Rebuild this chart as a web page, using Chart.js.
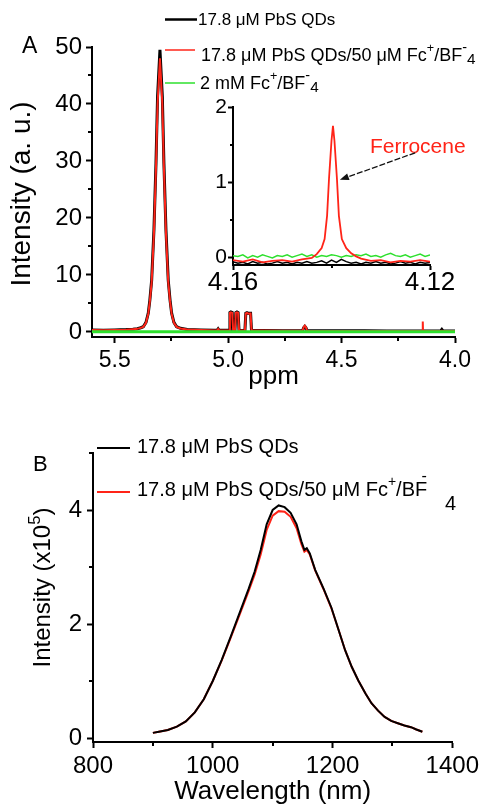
<!DOCTYPE html>
<html>
<head>
<meta charset="utf-8">
<script src="https://cdn.jsdelivr.net/npm/chart.js@4.4.1/dist/chart.umd.min.js"></script>
<style>
    html, body { margin: 0; padding: 0; background: #fff; }
    #wrap { position: relative; width: 483px; height: 807px; overflow: hidden; }
    canvas { position: absolute; left: 0; }
</style>
</head>
<body>
<div id="wrap">
    <canvas id="nmr_chart" width="483" height="400" style="top:0"></canvas>
    <canvas id="nmr_inset" width="483" height="400" style="top:0"></canvas>
    <canvas id="pl_chart" width="483" height="407" style="top:400px"></canvas>
</div>
<script>
const FONT = '"Liberation Sans", Arial, Helvetica, sans-serif';
const BLACK = "#000000";
const RED = "#ff2418";
const GREEN = "#2ee02e";

// ---- Panel A: 1H NMR (ppm) ----
const nmrPpm = [5.600, 5.550, 5.500, 5.450, 5.420, 5.400, 5.385, 5.374, 5.362, 5.352, 5.345, 5.337, 5.327, 5.318, 5.311,
    5.3005, 5.290, 5.283, 5.274, 5.264, 5.256, 5.249, 5.239, 5.227, 5.210, 5.180, 5.120, 5.060, 5.048, 5.044, 5.040,
    4.996, 4.992, 4.988, 4.982, 4.978, 4.970, 4.966, 4.961, 4.956, 4.952, 4.926, 4.922, 4.917, 4.913, 4.910, 4.906,
    4.901, 4.897, 4.850, 4.760, 4.672, 4.667, 4.662, 4.657, 4.652, 4.550, 4.400, 4.300, 4.146, 4.143, 4.1425, 4.1415,
    4.141, 4.138, 4.070, 4.063, 4.058, 4.053, 4.000];
const nmrQds = [0.35, 0.32, 0.35, 0.42, 0.50, 0.58, 0.75, 0.93, 1.7, 3.3, 5.6, 9.1, 17.9, 29.6, 41.3,
    49.5, 41.3, 29.6, 17.9, 9.1, 5.6, 3.3, 1.7, 0.93, 0.65, 0.45, 0.35, 0.30, 0.32, 0.55, 0.30,
    0.30, 3.40, 3.50, 3.40, 0.30, 0.30, 3.40, 3.50, 3.40, 0.30, 0.28, 3.30, 3.40, 3.30, 3.25, 3.30,
    3.30, 0.28, 0.25, 0.22, 0.22, 0.75, 1.00, 0.75, 0.22, 0.20, 0.20, 0.18, 0.18, 0.18, 0.18, 0.18,
    0.18, 0.18, 0.18, 0.18, 0.45, 0.18, 0.18];
const nmrQdsFc = [0.33, 0.30, 0.33, 0.40, 0.48, 0.55, 0.72, 0.90, 1.6, 3.2, 5.4, 8.8, 17.3, 28.8, 40.0,
    48.0, 40.0, 28.8, 17.3, 8.8, 5.4, 3.2, 1.6, 0.90, 0.62, 0.43, 0.33, 0.28, 0.30, 0.52, 0.28,
    0.28, 3.35, 3.45, 3.35, 0.28, 0.28, 3.35, 3.45, 3.35, 0.28, 0.26, 3.25, 3.35, 3.25, 3.20, 3.25,
    3.25, 0.26, 0.24, 0.21, 0.21, 0.85, 1.10, 0.85, 0.21, 0.19, 0.19, 0.17, 0.17, 0.20, 1.85, 1.85,
    0.20, 0.17, 0.17, 0.17, 0.20, 0.17, 0.17];
const fcPpm = [5.600, 4.000];
const fcOnly = [0.02, 0.02];

const nmrXTicks = [5.5, 5.0, 4.5, 4.0];
const nmrXMinor = [5.25, 4.75, 4.25];
const nmrYTicks = [0, 10, 20, 30, 40, 50];
const nmrYMinor = [5, 15, 25, 35, 45];

// ---- Panel A inset: 4.16 - 4.12 ppm ----
const insetPpm = [4.160, 4.159, 4.158, 4.157, 4.156, 4.155, 4.154, 4.153, 4.152, 4.151, 4.150, 4.149, 4.148, 4.147,
    4.146, 4.145, 4.144, 4.143, 4.142, 4.141, 4.140, 4.139, 4.138, 4.137, 4.136, 4.135, 4.134, 4.133, 4.132, 4.131,
    4.130, 4.129, 4.128, 4.127, 4.126, 4.125, 4.124, 4.123, 4.122, 4.121, 4.120];
const insetQds = [-0.06, -0.08, -0.07, -0.09, -0.06, -0.08, -0.07, -0.09, -0.08, -0.06, -0.08, -0.07, -0.09, -0.07,
    -0.08, -0.06, -0.08, -0.07, -0.05, -0.08, -0.04, -0.07, -0.03, -0.06, -0.08, -0.07, -0.09, -0.07, -0.08, -0.06,
    -0.08, -0.07, -0.09, -0.08, -0.06, -0.08, -0.07, -0.09, -0.07, -0.08, -0.07];
const insetFc = [0.02, 0.01, 0.03, -0.01, 0.02, 0.00, 0.03, 0.01, -0.01, 0.02, 0.01, 0.03, 0.00, 0.02,
    0.04, 0.01, 0.03, 0.00, 0.02, 0.01, 0.03, 0.02, 0.00, 0.02, 0.01, 0.03, 0.02, 0.04, 0.01, 0.02,
    0.00, 0.03, 0.05, 0.02, 0.01, 0.03, 0.00, 0.02, 0.04, 0.01, 0.03];
const insetRedPpm = [4.160, 4.158, 4.156, 4.154, 4.152, 4.150, 4.148, 4.146, 4.144, 4.143, 4.142, 4.1414, 4.1409,
    4.1405, 4.1400, 4.1397, 4.1394, 4.1389, 4.1385, 4.1379, 4.1370, 4.1360, 4.1350, 4.134, 4.132, 4.130, 4.128,
    4.126, 4.124, 4.122, 4.120];
const insetQdsFc = [-0.04, -0.06, -0.03, -0.07, -0.05, -0.04, -0.06, -0.03, -0.01, 0.04, 0.12, 0.24, 0.55,
    1.05, 1.55, 1.75, 1.55, 1.05, 0.55, 0.24, 0.12, 0.05, 0.01, -0.02, -0.05, -0.04, -0.07,
    -0.05, -0.06, -0.04, -0.06];
const insetXTicks = [4.16, 4.12];
const insetXMinor = [4.14];
const insetYTicks = [0, 1, 2];
const insetYMinor = [0.5, 1.5];
const ferroceneNote = { text: "Ferrocene", x: 4.1322, y: 1.47, from: [4.1230, 1.39], to: [4.1383, 1.03] };

// ---- Panel B: PL spectra ----
const plWavelength = [900, 910, 925, 940, 955, 970, 985, 1000, 1015, 1030, 1045, 1060, 1070, 1080, 1090, 1100,
    1110, 1120, 1130, 1140, 1148, 1153, 1157, 1162, 1171, 1185, 1198, 1210, 1221, 1232, 1243, 1255, 1265,
    1276, 1287, 1298, 1309, 1320, 1331, 1340, 1350];
const plQds = [0.09, 0.11, 0.14, 0.20, 0.29, 0.45, 0.68, 1.00, 1.37, 1.78, 2.20, 2.62, 2.92, 3.30, 3.75, 4.00,
    4.08, 4.05, 3.95, 3.75, 3.45, 3.30, 3.33, 3.24, 2.95, 2.62, 2.29, 1.90, 1.54, 1.25, 1.01, 0.78, 0.61,
    0.48, 0.37, 0.30, 0.26, 0.22, 0.19, 0.15, 0.11];
const plQdsFc = [0.09, 0.11, 0.14, 0.20, 0.29, 0.45, 0.68, 1.00, 1.36, 1.76, 2.17, 2.58, 2.87, 3.22, 3.65, 3.90,
    3.98, 3.97, 3.88, 3.68, 3.40, 3.27, 3.30, 3.22, 2.94, 2.61, 2.28, 1.90, 1.54, 1.25, 1.01, 0.78, 0.61,
    0.48, 0.37, 0.30, 0.26, 0.22, 0.19, 0.15, 0.11];
const plXTicks = [800, 1000, 1200, 1400];
const plXMinor = [900, 1100, 1300];
const plYTicks = [0, 2, 4];
const plYMinor = [1, 3, 5];

// ---- text runs (legend labels, rotated axis titles) ----
const labelQds = [{ t: "17.8 μM PbS QDs" }];
const labelQdsFc = [{ t: "17.8 μM PbS QDs/50 μM Fc" }, { t: "+", scale: 0.7, dy: -0.42 }, { t: "/BF" },
    { t: "-", scale: 0.8, dy: -0.45 }, { t: "4", scale: 0.85, dy: 0.2 }];
const labelFc = [{ t: "2 mM Fc" }, { t: "+", scale: 0.7, dy: -0.42 }, { t: "/BF" },
    { t: "-", scale: 0.8, dy: -0.45 }, { t: "4", scale: 0.85, dy: 0.2 }];
const labelQdsFcB = [{ t: "17.8 μM PbS QDs/50 μM Fc" }, { t: "+", scale: 0.7, dy: -0.42 }, { t: "/BF" },
    { t: "-", scale: 0.8, dy: -0.7, dx: -0.28 }, { t: "4", scale: 1, dy: 0.68, dx: 0.9 }];
const titleNmrY = [{ t: "Intensity (a. u.)" }];
const titlePlY = [{ t: "Intensity (x10" }, { t: "5", scale: 0.7, dy: -0.3 }, { t: ")" }];

function pts(xs, ys) {
    return xs.map((x, i) => ({ x: x, y: ys[i] }));
}

function runsWidth(ctx, runs, size) {
    let w = 0;
    runs.forEach(r => {
        ctx.font = size * (r.scale || 1) + "px " + FONT;
        w += (r.dx || 0) * size + ctx.measureText(r.t).width;
    });
    return w;
}

function drawRuns(ctx, x, y, runs, size, color) {
    ctx.save();
    ctx.fillStyle = color;
    ctx.textBaseline = "middle";
    ctx.textAlign = "left";
    runs.forEach(r => {
        const fs = size * (r.scale || 1);
        ctx.font = fs + "px " + FONT;
        x += (r.dx || 0) * size;
        ctx.fillText(r.t, x, y + (r.dy || 0) * size);
        x += ctx.measureText(r.t).width;
    });
    ctx.restore();
}

// minor ticks (shorter than the major ones Chart.js draws)
const minorTicksPlugin = {
    id: "minorTicks",
    afterDraw(chart, args, opts) {
        const ctx = chart.ctx;
        const xs = chart.scales.x;
        const ys = chart.scales.y;
        ctx.save();
        ctx.strokeStyle = "#000";
        ctx.lineWidth = 2;
        (opts.x || []).forEach(v => {
            const px = Math.round(xs.getPixelForValue(v));
            ctx.beginPath();
            ctx.moveTo(px, xs.top);
            ctx.lineTo(px, xs.top + opts.length);
            ctx.stroke();
        });
        (opts.y || []).forEach(v => {
            const py = Math.round(ys.getPixelForValue(v));
            ctx.beginPath();
            ctx.moveTo(ys.right, py);
            ctx.lineTo(ys.right - opts.length, py);
            ctx.stroke();
        });
        ctx.restore();
    },
};

// legend rows, panel letter, rotated y title and the inset note
const panelTextPlugin = {
    id: "panelText",
    afterDraw(chart, args, opts) {
        const ctx = chart.ctx;
        (opts.rows || []).forEach(r => {
            ctx.save();
            ctx.strokeStyle = r.color;
            ctx.lineWidth = r.width;
            ctx.beginPath();
            ctx.moveTo(r.x1, r.y);
            ctx.lineTo(r.x2, r.y);
            ctx.stroke();
            ctx.restore();
            drawRuns(ctx, r.tx, r.ty, r.runs, r.size, "#000");
        });
        if (opts.letter) {
            drawRuns(ctx, opts.letter.x, opts.letter.y, [{ t: opts.letter.t }], opts.letter.size, "#000");
        }
        if (opts.yTitle) {
            const t = opts.yTitle;
            const cy = (chart.chartArea.top + chart.chartArea.bottom) / 2 + (t.shift || 0);
            const w = runsWidth(ctx, t.runs, t.size);
            ctx.save();
            ctx.translate(t.x, cy);
            ctx.rotate(-Math.PI / 2);
            drawRuns(ctx, -w / 2, 0, t.runs, t.size, "#000");
            ctx.restore();
        }
        if (opts.note) {
            const n = opts.note;
            const sx = chart.scales.x, sy = chart.scales.y;
            drawRuns(ctx, sx.getPixelForValue(n.x), sy.getPixelForValue(n.y), [{ t: n.text }], 21, RED);
            const x1 = sx.getPixelForValue(n.from[0]), y1 = sy.getPixelForValue(n.from[1]);
            const x2 = sx.getPixelForValue(n.to[0]), y2 = sy.getPixelForValue(n.to[1]);
            const a = Math.atan2(y2 - y1, x2 - x1);
            ctx.save();
            ctx.strokeStyle = "#111";
            ctx.fillStyle = "#111";
            ctx.lineWidth = 1.3;
            ctx.setLineDash([6, 2]);
            ctx.beginPath();
            ctx.moveTo(x1, y1);
            ctx.lineTo(x2 - 6 * Math.cos(a), y2 - 6 * Math.sin(a));
            ctx.stroke();
            ctx.setLineDash([]);
            ctx.beginPath();
            ctx.moveTo(x2, y2);
            ctx.lineTo(x2 - 9 * Math.cos(a) + 3.5 * Math.sin(a), y2 - 9 * Math.sin(a) - 3.5 * Math.cos(a));
            ctx.lineTo(x2 - 9 * Math.cos(a) - 3.5 * Math.sin(a), y2 - 9 * Math.sin(a) + 3.5 * Math.cos(a));
            ctx.closePath();
            ctx.fill();
            ctx.restore();
        }
    },
};

function axis(o) {
    return {
        type: "linear",
        min: o.min,
        max: o.max,
        reverse: !!o.reverse,
        afterBuildTicks: s => { s.ticks = o.ticks.map(v => ({ value: v })); },
        afterFit: s => {
            if (o.width != null) s.width = o.width;
            if (o.height != null) s.height = o.height;
        },
        ticks: {
            autoSkip: false,
            maxRotation: 0,
            padding: o.pad,
            color: "#000",
            font: { family: FONT, size: o.font, lineHeight: o.lh || 1.2 },
            callback: v => o.digits != null ? Number(v).toFixed(o.digits) : String(v),
        },
        grid: { drawOnChartArea: false, drawTicks: true, tickLength: o.tick || 6, tickWidth: 2, tickColor: "#000" },
        border: { display: true, color: "#000", width: 2 },
        title: o.title ? {
            display: true,
            text: o.title,
            color: "#000",
            font: { family: FONT, size: o.titleSize },
            padding: o.titlePad,
        } : { display: false },
    };
}

function baseOptions(padding) {
    return {
        responsive: false,
        animation: false,
        layout: { padding: padding },
        elements: { point: { radius: 0 }, line: { tension: 0 } },
        plugins: { legend: { display: false }, tooltip: { enabled: false } },
    };
}

// ---- Panel A main ----
const optsA = baseOptions({ left: 0, top: 47, right: 28, bottom: 0 });
optsA.scales = {
    x: axis({ min: 4.0, max: 5.6, reverse: true, ticks: nmrXTicks, digits: 1, font: 23, pad: 4, height: 63,
        title: "ppm", titleSize: 26, titlePad: { top: 0, bottom: 8 } }),
    y: axis({ min: -0.88, max: 50, ticks: nmrYTicks, font: 24, pad: 4, width: 92 }),
};
optsA.plugins.minorTicks = { x: nmrXMinor, y: nmrYMinor, length: 4 };
optsA.plugins.panelText = {
    letter: { t: "A", x: 22, y: 47, size: 23 },
    yTitle: { runs: titleNmrY, size: 28, x: 22, shift: 2 },
    rows: [
        { color: BLACK, width: 2.5, x1: 165, x2: 197, y: 19.5, tx: 198, ty: 20, size: 17, runs: labelQds },
        { color: RED, width: 1.5, x1: 165, x2: 195, y: 50, tx: 201, ty: 56, size: 18, runs: labelQdsFc },
        { color: GREEN, width: 1.5, x1: 165, x2: 195, y: 83, tx: 200, ty: 84.5, size: 18, runs: labelFc },
    ],
};
new Chart(document.getElementById("nmr_chart"), {
    type: "line",
    data: {
        datasets: [
            { data: pts(nmrPpm, nmrQds), borderColor: BLACK, borderWidth: 3, order: 2 },
            { data: pts(nmrPpm, nmrQdsFc), borderColor: RED, borderWidth: 2, order: 1 },
            { data: pts(fcPpm, fcOnly), borderColor: GREEN, borderWidth: 3, order: 0 },
        ],
    },
    options: optsA,
    plugins: [minorTicksPlugin, panelTextPlugin],
});

// ---- Panel A inset ----
const optsIn = baseOptions({ left: 0, top: 107, right: 53, bottom: 0 });
optsIn.scales = {
    x: axis({ min: 4.12, max: 4.16, reverse: true, ticks: insetXTicks, digits: 2, font: 26, lh: 1, pad: 0, tick: 5, height: 135 }),
    y: axis({ min: -0.105, max: 2, ticks: insetYTicks, font: 21, pad: 1, tick: 5, width: 233 }),
};
optsIn.plugins.minorTicks = { x: insetXMinor, y: insetYMinor, length: 3 };
optsIn.plugins.panelText = { note: ferroceneNote };
new Chart(document.getElementById("nmr_inset"), {
    type: "line",
    data: {
        datasets: [
            { data: pts(insetPpm, insetQds), borderColor: BLACK, borderWidth: 1.5, order: 2 },
            { data: pts(insetRedPpm, insetQdsFc), borderColor: RED, borderWidth: 1.8, order: 0 },
            { data: pts(insetPpm, insetFc), borderColor: GREEN, borderWidth: 1.5, order: 1 },
        ],
    },
    options: optsIn,
    plugins: [minorTicksPlugin, panelTextPlugin],
});

// ---- Panel B ----
const optsB = baseOptions({ left: 0, top: 53, right: 28, bottom: 0 });
optsB.scales = {
    x: axis({ min: 800, max: 1400, ticks: plXTicks, font: 24, pad: 4, height: 65,
        title: "Wavelength (nm)", titleSize: 26, titlePad: { top: 0, bottom: 0 } }),
    y: axis({ min: -0.07, max: 5, ticks: plYTicks, font: 24, pad: 5, width: 93 }),
};
optsB.plugins.minorTicks = { x: plXMinor, y: plYMinor, length: 4 };
optsB.plugins.panelText = {
    letter: { t: "B", x: 33, y: 65, size: 22 },
    yTitle: { runs: titlePlY, size: 24, x: 43, shift: -10 },
    rows: [
        { color: BLACK, width: 2, x1: 97, x2: 130, y: 48, tx: 137, ty: 47.5, size: 20, runs: labelQds },
        { color: RED, width: 2, x1: 97, x2: 130, y: 92, tx: 137, ty: 90.5, size: 20, runs: labelQdsFcB },
    ],
};
new Chart(document.getElementById("pl_chart"), {
    type: "line",
    data: {
        datasets: [
            { data: pts(plWavelength, plQds), borderColor: BLACK, borderWidth: 2, order: 0 },
            { data: pts(plWavelength, plQdsFc), borderColor: RED, borderWidth: 2, order: 1 },
        ],
    },
    options: optsB,
    plugins: [minorTicksPlugin, panelTextPlugin],
});
</script>
</body>
</html>
